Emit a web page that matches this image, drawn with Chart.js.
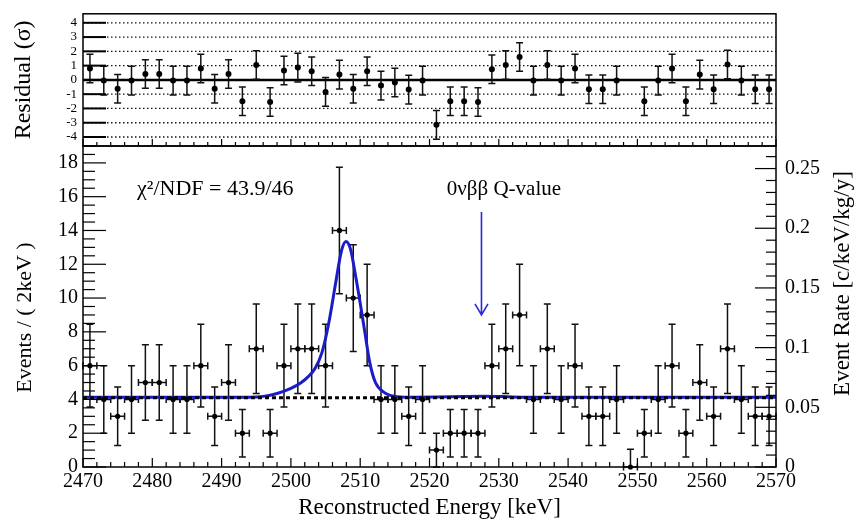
<!DOCTYPE html>
<html>
<head>
<meta charset="utf-8">
<script src="https://cdn.jsdelivr.net/npm/chart.js@4.4.0/dist/chart.umd.min.js"></script>
<style>
  html, body { margin: 0; padding: 0; background: #fff; }
  #wrap { position: relative; width: 856px; height: 525px; }
  #wrap canvas { position: absolute; left: 0; top: 0; }
</style>
</head>
<body>
<div id="wrap">
  <canvas id="mainChart" width="856" height="525"></canvas>
  <canvas id="residChart" width="856" height="525"></canvas>
</div>
<script>
// 2 keV bins, centres in keV
const binCentres = [
  2471, 2473, 2475, 2477, 2479, 2481, 2483, 2485, 2487, 2489,
  2491, 2493, 2495, 2497, 2499, 2501, 2503, 2505, 2507, 2509,
  2511, 2513, 2515, 2517, 2519, 2521, 2523, 2525, 2527, 2529,
  2531, 2533, 2535, 2537, 2539, 2541, 2543, 2545, 2547, 2549,
  2551, 2553, 2555, 2557, 2559, 2561, 2563, 2565, 2567, 2569
];
const binHalfWidth = 1;

// events per bin
const counts = [
  6, 4, 3, 4, 5, 5, 4, 4, 6, 3,
  5, 2, 7, 2, 6, 7, 7, 6, 14, 10,
  9, 4, 4, 3, 4, 1, 2, 2, 2, 6,
  7, 9, 4, 7, 4, 6, 3, 3, 4, 0,
  2, 4, 6, 2, 5, 3, 7, 4, 3, 3
];
const countErrors = [
  2.45, 2, 1.73, 2, 2.24, 2.24, 2, 2, 2.45, 1.73,
  2.24, 1.41, 2.65, 1.41, 2.45, 2.65, 2.65, 2.45, 3.74, 3.16,
  3, 2, 2, 1.73, 2, 1, 1.41, 1.41, 1.41, 2.45,
  2.65, 3, 2, 2.65, 2, 2.45, 1.73, 1.73, 2, 1.05,
  1.41, 2, 2.45, 1.41, 2.24, 1.73, 2.65, 2, 1.73, 1.73
];

// pulls (data - fit) / error; empty bin has no pull
const residuals = [
  0.8, -0.05, -0.62, -0.05, 0.42, 0.42, -0.05, -0.05, 0.8, -0.62,
  0.42, -1.5, 1.05, -1.55, 0.66, 0.86, 0.6, -0.84, 0.37, -0.62,
  0.6, -0.4, -0.18, -0.68, -0.05, -3.15, -1.5, -1.5, -1.55, 0.75,
  1.04, 1.6, -0.05, 1.04, -0.05, 0.8, -0.65, -0.65, -0.05, null,
  -1.5, -0.05, 0.8, -1.5, 0.37, -0.65, 1.08, -0.05, -0.65, -0.65
];
const residualError = 1;

// fitted peak + flat background
const fitEnergy = [
  2470, 2494, 2496, 2498, 2500, 2501.5, 2502.5, 2503.5, 2504.5, 2505.5,
  2506.5, 2507.3, 2507.95, 2508.6, 2509.3, 2510, 2510.7, 2511.4, 2512.2, 2513.5,
  2515, 2517, 2521, 2525, 2528, 2532, 2536, 2570
];
const fitCounts = [
  4.13, 4.13, 4.18, 4.35, 4.65, 5.0, 5.35, 5.85, 6.8, 8.6,
  11.0, 12.8, 13.35, 12.9, 11.4, 9.7, 7.9, 6.15, 5.0, 4.4,
  4.18, 4.13, 4.14, 4.18, 4.19, 4.15, 4.13, 4.13
];
const bkgEnergy = [2470, 2570];
const bkgCounts = [4.1, 4.1];

// axis ranges
const energyRange = [2470, 2570];
const countRange = [0, 19.0];
const rateRange = [0, 0.2689];
const residRange = [-4.63, 4.63];

const qValue = 2527.5;
const arrowCounts = [15.1, 9.0];
const chi2Label = 'χ²/NDF = 43.9/46';
const qLabel = '0νββ Q-value';

const SERIF = '"Liberation Serif", "Times New Roman", serif';
Chart.defaults.font.family = SERIF;
Chart.defaults.color = '#000';

function toPoints(xs, ys) {
  const pts = [];
  xs.forEach((x, i) => { if (ys[i] !== null) pts.push({ x: x, y: ys[i] }); });
  return pts;
}

// vertical (and optional horizontal) error bars with end caps
function errorBarPlugin(xs, ys, yErr, xHalf) {
  return {
    id: 'errorBars',
    beforeDatasetsDraw(chart) {
      const { ctx, scales: { x, y } } = chart;
      ctx.save();
      ctx.strokeStyle = '#111';
      ctx.lineWidth = 1.5;
      xs.forEach((e, i) => {
        const v = ys[i];
        if (v === null) return;
        const err = Array.isArray(yErr) ? yErr[i] : yErr;
        const px = x.getPixelForValue(e);
        const py = y.getPixelForValue(v);
        const top = y.getPixelForValue(v + err);
        const clipped = v - err < y.min;
        const bot = y.getPixelForValue(clipped ? y.min : v - err);
        ctx.beginPath();
        ctx.moveTo(px, top); ctx.lineTo(px, bot);
        ctx.moveTo(px - 3.5, top); ctx.lineTo(px + 3.5, top);
        if (!clipped) { ctx.moveTo(px - 3.5, bot); ctx.lineTo(px + 3.5, bot); }
        if (xHalf) {
          const l = x.getPixelForValue(e - xHalf);
          const r = x.getPixelForValue(e + xHalf);
          ctx.moveTo(l, py); ctx.lineTo(r, py);
          ctx.moveTo(l, py - 3.5); ctx.lineTo(l, py + 3.5);
          ctx.moveTo(r, py - 3.5); ctx.lineTo(r, py + 3.5);
        }
        ctx.stroke();
      });
      ctx.restore();
    }
  };
}

// box around the plot area and inward-pointing tick marks
function framePlugin(specs) {
  return {
    id: 'rootFrame',
    afterDatasetsDraw(chart) {
      const { ctx, chartArea: a } = chart;
      ctx.save();
      ctx.strokeStyle = '#000';
      specs.forEach(spec => {
        const s = chart.scales[spec.scale];
        ctx.lineWidth = spec.width || 1.2;
        const n0 = Math.ceil(s.min / spec.minor - 1e-9);
        const n1 = Math.floor(s.max / spec.minor + 1e-9);
        for (let n = n0; n <= n1; n++) {
          const v = n * spec.minor;
          const r = v / spec.major;
          const len = Math.abs(r - Math.round(r)) < 1e-6 ? spec.majorLen : spec.minorLen;
          const p = s.getPixelForValue(v);
          ctx.beginPath();
          if (spec.side === 'left') { ctx.moveTo(a.left, p); ctx.lineTo(a.left + len, p); }
          if (spec.side === 'right') { ctx.moveTo(a.right, p); ctx.lineTo(a.right - len, p); }
          if (spec.side === 'bottom') { ctx.moveTo(p, a.bottom); ctx.lineTo(p, a.bottom - len); }
          if (spec.side === 'top') { ctx.moveTo(p, a.top); ctx.lineTo(p, a.top + len); }
          ctx.stroke();
        }
      });
      ctx.lineWidth = 1.5;
      ctx.strokeRect(a.left, a.top, a.right - a.left, a.bottom - a.top);
      ctx.restore();
    }
  };
}

// dotted lines at each sigma, solid line at zero
const residGrid = {
  id: 'residGrid',
  beforeDatasetsDraw(chart) {
    const { ctx, chartArea: a, scales: { y } } = chart;
    ctx.save();
    for (let k = -4; k <= 4; k++) {
      const py = y.getPixelForValue(k);
      ctx.beginPath();
      if (k === 0) {
        ctx.setLineDash([]);
        ctx.lineWidth = 2.5;
        ctx.strokeStyle = '#000';
      } else {
        ctx.setLineDash([1.5, 2.5]);
        ctx.lineWidth = 1.3;
        ctx.strokeStyle = '#111';
      }
      ctx.moveTo(a.left, py); ctx.lineTo(a.right, py);
      ctx.stroke();
    }
    ctx.restore();
  }
};

// fit statistics, Q-value marker and the two vertical axis titles
const annotations = {
  id: 'annotations',
  afterDraw(chart) {
    const { ctx, chartArea: a, scales: { x, y } } = chart;
    ctx.save();
    ctx.fillStyle = '#000';
    ctx.textBaseline = 'middle';
    ctx.textAlign = 'left';
    ctx.font = '22px ' + SERIF;
    ctx.fillText(chi2Label, x.getPixelForValue(2477.8), y.getPixelForValue(16.44));
    ctx.font = '21px ' + SERIF;
    ctx.fillText(qLabel, x.getPixelForValue(2522.5), y.getPixelForValue(16.44));

    const ax = x.getPixelForValue(qValue);
    const y0 = y.getPixelForValue(arrowCounts[0]);
    const y1 = y.getPixelForValue(arrowCounts[1]);
    ctx.strokeStyle = '#2a2ad2';
    ctx.lineWidth = 1.6;
    ctx.beginPath();
    ctx.moveTo(ax, y0); ctx.lineTo(ax, y1);
    ctx.moveTo(ax - 6.5, y1 - 11); ctx.lineTo(ax, y1); ctx.lineTo(ax + 6.5, y1 - 11);
    ctx.stroke();

    const midY = (a.top + a.bottom) / 2;
    ctx.textAlign = 'center';

    ctx.save();
    ctx.translate(25, midY + 11);
    ctx.rotate(-Math.PI / 2);
    ctx.font = '22px ' + SERIF;
    ctx.fillText('Events / ( 2keV )', 0, 0);
    ctx.restore();

    ctx.translate(a.right + 67, midY - 23);
    ctx.rotate(-Math.PI / 2);
    ctx.font = '23px ' + SERIF;
    ctx.fillText('Event Rate [c/keV/kg/y]', 0, 0);
    ctx.restore();
  }
};

const mainChart = new Chart(document.getElementById('mainChart'), {
  type: 'scatter',
  data: {
    datasets: [
      {
        label: 'Data',
        data: toPoints(binCentres, counts),
        pointRadius: 2.6,
        pointBackgroundColor: '#000',
        pointBorderWidth: 0,
        clip: false,
        order: 0
      },
      {
        label: 'Background',
        data: toPoints(bkgEnergy, bkgCounts),
        showLine: true,
        pointRadius: 0,
        borderColor: '#000',
        borderWidth: 3,
        borderDash: [4, 3],
        order: 1
      },
      {
        label: 'Fit',
        data: toPoints(fitEnergy, fitCounts),
        showLine: true,
        pointRadius: 0,
        borderColor: '#1c1cc6',
        borderWidth: 3,
        cubicInterpolationMode: 'monotone',
        order: 2
      }
    ]
  },
  options: {
    responsive: false,
    animation: false,
    events: [],
    layout: { padding: { top: 146, left: 0, right: 0, bottom: 0 } },
    plugins: { legend: { display: false }, tooltip: { enabled: false } },
    scales: {
      x: {
        type: 'linear',
        min: energyRange[0], max: energyRange[1],
        ticks: { stepSize: 10, padding: 3, font: { size: 20 }, includeBounds: false, callback: v => String(v) },
        grid: { display: false, drawTicks: false },
        border: { display: false },
        title: { display: true, text: 'Reconstructed Energy [keV]', font: { size: 23 }, padding: { top: 0, bottom: 3 } },
        afterFit: s => { s.height = 58; }
      },
      y: {
        position: 'left',
        min: countRange[0], max: countRange[1],
        ticks: { stepSize: 2, padding: 5, font: { size: 20 }, includeBounds: false, autoSkip: false, callback: v => String(v) },
        grid: { display: false, drawTicks: false },
        border: { display: false },
        afterFit: s => { s.width = 83; }
      },
      yR: {
        position: 'right',
        min: rateRange[0], max: rateRange[1],
        ticks: { stepSize: 0.05, padding: 9, font: { size: 20 }, includeBounds: false, autoSkip: false, callback: v => String(Math.round(v * 100) / 100) },
        grid: { display: false, drawTicks: false },
        border: { display: false },
        afterFit: s => { s.width = 80; }
      }
    }
  },
  plugins: [
    errorBarPlugin(binCentres, counts, countErrors, binHalfWidth),
    framePlugin([
      { scale: 'y', side: 'left', major: 2, minor: 0.5, majorLen: 23, minorLen: 12 },
      { scale: 'yR', side: 'right', major: 0.05, minor: 0.01, majorLen: 21, minorLen: 10 },
      { scale: 'x', side: 'bottom', major: 10, minor: 2, majorLen: 9, minorLen: 5 }
    ]),
    annotations
  ]
});

const residChart = new Chart(document.getElementById('residChart'), {
  type: 'scatter',
  data: {
    datasets: [{
      label: 'Residual',
      data: toPoints(binCentres, residuals),
      pointRadius: 3,
      pointBackgroundColor: '#000',
      pointBorderWidth: 0
    }]
  },
  options: {
    responsive: false,
    animation: false,
    events: [],
    layout: { padding: { top: 6, left: 0, right: 80, bottom: 0 } },
    plugins: { legend: { display: false }, tooltip: { enabled: false } },
    scales: {
      x: {
        type: 'linear',
        min: energyRange[0], max: energyRange[1],
        ticks: { display: false },
        grid: { display: false, drawTicks: false },
        border: { display: false },
        afterFit: s => { s.height = 525 - 146; }
      },
      y: {
        min: residRange[0], max: residRange[1],
        ticks: { stepSize: 1, padding: 6, font: { size: 13 }, includeBounds: false, autoSkip: false, callback: v => String(v) },
        grid: { display: false, drawTicks: false },
        border: { display: false },
        title: { display: true, text: 'Residual (σ)', font: { size: 24 }, padding: { top: 9, bottom: 0 } },
        afterFit: s => { s.width = 83; }
      }
    }
  },
  plugins: [
    residGrid,
    errorBarPlugin(binCentres, residuals, residualError, 0),
    framePlugin([
      { scale: 'y', side: 'left', major: 1, minor: 1, majorLen: 23, minorLen: 23, width: 2 },
      { scale: 'x', side: 'bottom', major: 10, minor: 2, majorLen: 7, minorLen: 4 }
    ])
  ]
});
</script>
</body>
</html>
